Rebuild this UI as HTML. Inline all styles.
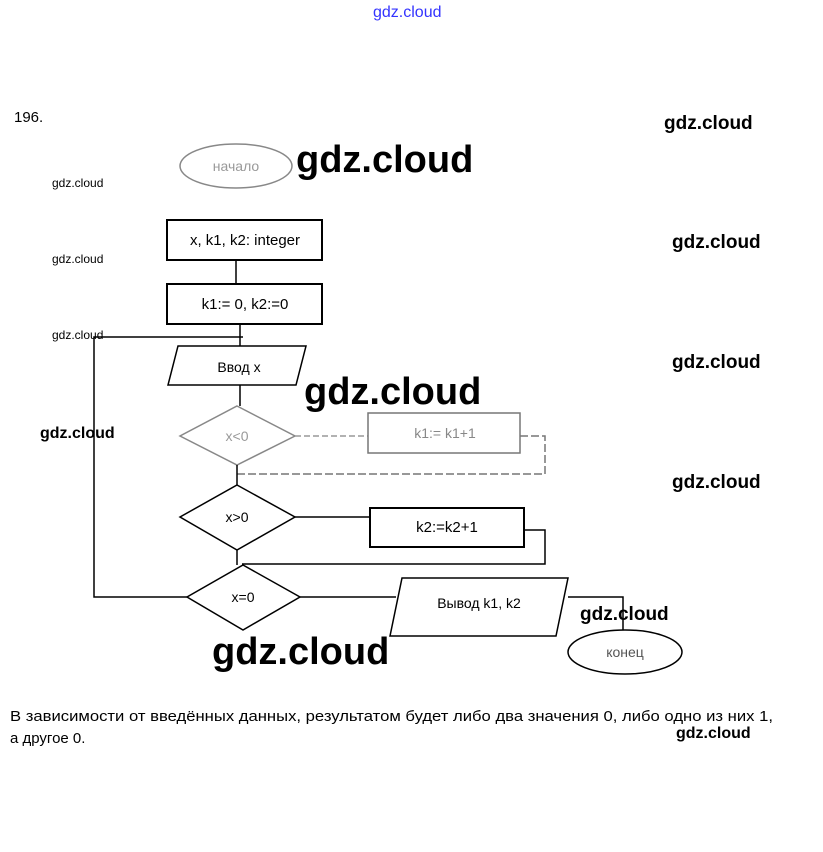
<!DOCTYPE html>
<html><head><meta charset="utf-8"><style>
body{margin:0;background:#fff;width:823px;height:852px;overflow:hidden}
svg{display:block}
text{font-family:"Liberation Sans","DejaVu Sans",sans-serif}
</style></head><body>
<svg width="823" height="852" viewBox="0 0 823 852" xmlns="http://www.w3.org/2000/svg">
<g fill="none" stroke="#000" stroke-width="1.5">
<ellipse cx="236" cy="166" rx="56" ry="22" stroke="#888"/>
<rect x="167" y="220" width="155" height="40" stroke-width="2"/>
<line x1="236" y1="260" x2="236" y2="284"/>
<rect x="167" y="284" width="155" height="40" stroke-width="2"/>
<line x1="240" y1="324" x2="240" y2="346"/>
<polyline points="243,337 94,337 94,597 187,597"/>
<polygon points="178,346 306,346 296,385 168,385"/>
<line x1="240" y1="385" x2="240" y2="406"/>
<polygon points="237,406 295,436 237,465 180,436" stroke="#888"/>
<line x1="295" y1="436" x2="368" y2="436" stroke="#999" stroke-dasharray="6,3"/>
<rect x="368" y="413" width="152" height="40" stroke="#777"/>
<polyline points="520,436 545,436 545,474 237,474" stroke="#777" stroke-dasharray="8,3"/>
<line x1="237" y1="465" x2="237" y2="485"/>
<polygon points="237,485 295,517 237,550 180,517"/>
<line x1="295" y1="517" x2="370" y2="517"/>
<rect x="370" y="508" width="154" height="39" stroke-width="2"/>
<polyline points="524,530 545,530 545,564 242,564"/>
<line x1="237" y1="550" x2="237" y2="565"/>
<polygon points="243,565 300,597 243,630 187,597"/>
<line x1="300" y1="597" x2="396" y2="597"/>
<polygon points="402,578 568,578 556,636 390,636"/>
<polyline points="568,597 623,597 623,630"/>
<ellipse cx="625" cy="652" rx="57" ry="22"/>
</g>
<g font-size="14" fill="#000">
<text x="14" y="122" font-size="15">196.</text>
<text x="236" y="171" text-anchor="middle" fill="#999">начало</text>
<text x="245" y="245" text-anchor="middle" font-size="15">x, k1, k2: integer</text>
<text x="245" y="309" text-anchor="middle" font-size="15">k1:= 0, k2:=0</text>
<text x="239" y="372" text-anchor="middle">Ввод x</text>
<text x="237" y="441" text-anchor="middle" fill="#999">x&lt;0</text>
<text x="445" y="438" text-anchor="middle" fill="#888">k1:= k1+1</text>
<text x="237" y="522" text-anchor="middle">x&gt;0</text>
<text x="447" y="532" text-anchor="middle" font-size="15">k2:=k2+1</text>
<text x="243" y="602" text-anchor="middle">x=0</text>
<text x="479" y="608" text-anchor="middle">Вывод k1, k2</text>
<text x="625" y="657" text-anchor="middle" fill="#555">конец</text>
<text x="10" y="721" font-size="15" textLength="763" lengthAdjust="spacingAndGlyphs">В зависимости от введённых данных, результатом будет либо два значения 0, либо одно из них 1,</text>
<text x="10" y="743" font-size="15">а другое 0.</text>
</g>
<g font-weight="bold" fill="#000">
<text x="373" y="17" font-size="16" fill="#3333ff" font-weight="normal">gdz.cloud</text>
<text x="664" y="129" font-size="19">gdz.cloud</text>
<text x="296" y="172" font-size="38">gdz.cloud</text>
<text x="52" y="187" font-size="12" font-weight="normal">gdz.cloud</text>
<text x="672" y="248" font-size="19">gdz.cloud</text>
<text x="52" y="263" font-size="12" font-weight="normal">gdz.cloud</text>
<text x="52" y="339" font-size="12" font-weight="normal">gdz.cloud</text>
<text x="672" y="368" font-size="19">gdz.cloud</text>
<text x="304" y="404" font-size="38">gdz.cloud</text>
<text x="40" y="438" font-size="16">gdz.cloud</text>
<text x="672" y="488" font-size="19">gdz.cloud</text>
<text x="580" y="620" font-size="19">gdz.cloud</text>
<text x="212" y="664" font-size="38">gdz.cloud</text>
<text x="676" y="738" font-size="16">gdz.cloud</text>
</g>
</svg>
</body></html>
